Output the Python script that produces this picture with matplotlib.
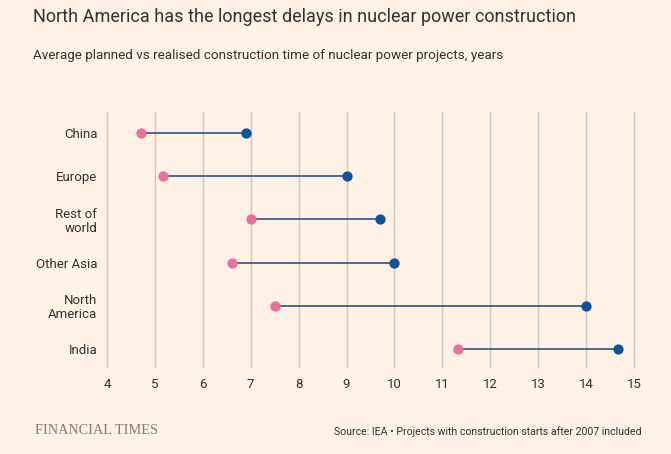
import matplotlib
matplotlib.use("Agg")
import matplotlib.pyplot as plt
from matplotlib import font_manager as fm

regions = ["China", "Europe", "Rest of\nworld", "Other Asia", "North\nAmerica", "India"]
planned = [4.7, 5.17, 7.0, 6.6, 7.5, 11.33]
realised = [6.9, 9.0, 9.7, 10.0, 14.0, 14.67]
xticks = list(range(4, 16))

BG = "#FFF1E5"
PINK = "#E9709A"
BLUE = "#0F5499"
LINE = "#3B5E8C"
GRID = "#D2C8BD"
TEXT = "#33302E"

avail = {f.name for f in fm.fontManager.ttflist}
fam = "Liberation Sans Narrow" if "Liberation Sans Narrow" in avail else "Roboto"
plt.rcParams["font.family"] = [fam, "DejaVu Sans"]

W, H = 671, 454
fig = plt.figure(figsize=(W / 100, H / 100), dpi=100, facecolor=BG)
ax_l, ax_r, ax_t, ax_b = 107, 634, 112, 367
ax = fig.add_axes([ax_l / W, 1 - ax_b / H, (ax_r - ax_l) / W, (ax_b - ax_t) / H])
ax.set_facecolor(BG)

ys = list(range(len(regions)))
for y, p, r in zip(ys, planned, realised):
    ax.plot([p, r], [y, y], color=LINE, lw=1.3, zorder=2)
ax.scatter(planned, ys, s=55, color=PINK, zorder=3, linewidths=0)
ax.scatter(realised, ys, s=55, color=BLUE, zorder=3, linewidths=0)

ax.set_xlim(4, 15)
ax.set_ylim(5 + 18 / 43.2, -21 / 43.2)
ax.set_xticks(xticks)
ax.set_xticklabels([str(t) for t in xticks])
ax.set_yticks(ys)
ax.set_yticklabels(regions, linespacing=1.1)
ax.grid(axis="x", color=GRID, lw=1)
for gl in ax.get_xgridlines():
    gl.set_clip_on(False)
ax.set_axisbelow(True)
for s in ax.spines.values():
    s.set_visible(False)
ax.tick_params(axis="both", length=0, labelsize=9.5, colors=TEXT)
ax.tick_params(axis="x", pad=8)
ax.tick_params(axis="y", pad=7)
for lbl in ax.get_yticklabels():
    lbl.set_horizontalalignment("right")

fig.text(33 / W, 1 - 17 / H, "North America has the longest delays in nuclear power construction",
         fontsize=13.0, color=TEXT, va="center", ha="left")
fig.text(33 / W, 1 - 56 / H, "Average planned vs realised construction time of nuclear power projects, years",
         fontsize=9.7, color=TEXT, va="center", ha="left")
fig.text(35 / W, 1 - 431 / H, "FINANCIAL TIMES", fontsize=10.3, color="#857C73",
         family=["Liberation Serif", "DejaVu Serif"], va="center", ha="left")
fig.text(642 / W, 1 - 432 / H, "Source: IEA \u2022 Projects with construction starts after 2007 included",
         fontsize=7.6, color=TEXT, va="center", ha="right")

fig.savefig("out.png", dpi=100, facecolor=BG)
